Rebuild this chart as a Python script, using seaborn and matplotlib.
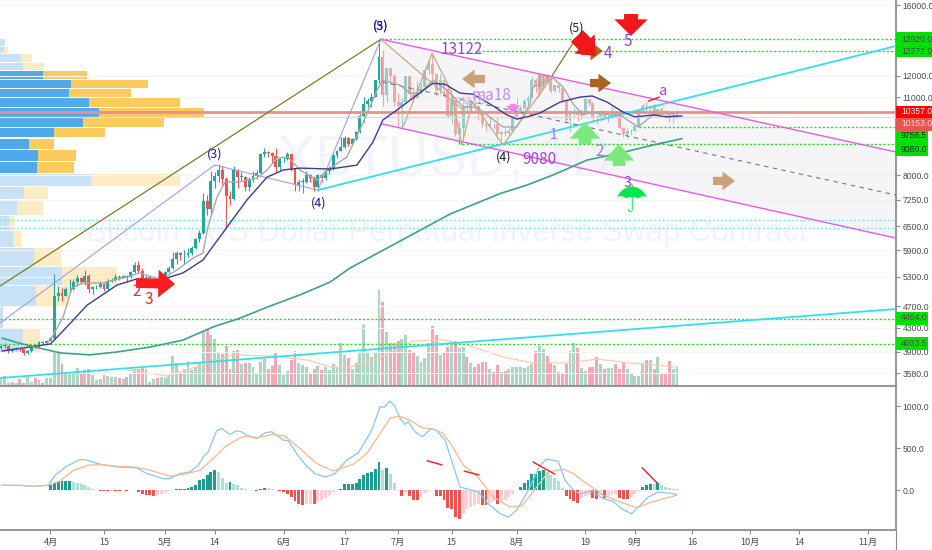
import numpy as np
import pandas as pd
import seaborn as sns
from matplotlib import pyplot as plt
from matplotlib.patches import Polygon, Rectangle
from matplotlib.ticker import NullLocator

W, H = 932, 550

# daily candles, Mar 19 - Sep 12 (day 0 is Apr 1)
days = list(range(-13, 165))
closes = [3990, 4000, 3920, 3950, 3960, 3940, 3880, 3910, 4000, 3990, 4060, 4050, 4080,
          4130, 4890, 4960, 4900, 5030, 5040, 5180, 5280, 5180, 5310, 5040, 5070, 5070, 5150, 5030, 5210, 5230, 5290, 5280, 5310, 5290, 5390, 5560, 5430, 5200, 5280, 5280, 5280, 5260, 5320,
          5400, 5480, 5700, 5830, 5780, 5780, 5830, 5950, 6170, 6340, 7200, 6970, 7820, 7990, 8190, 7880, 7350, 7260, 8190, 7950, 7950, 7620, 7880, 7990, 8070, 8730, 8800, 8760, 8650, 8280, 8550,
          8550, 8730, 8200, 7680, 7800, 7800, 8000, 7930, 7630, 8000, 7930, 8150, 8230, 8690, 8850, 8980, 9330, 9080, 9280, 9530, 10200, 10700, 10830, 11020, 11800, 12950, 11100, 12400, 12000, 10800,
          10600, 10800, 11980, 11150, 10970, 11250, 11470, 12300, 12570, 12100, 11300, 11800, 11350, 10200, 10850, 9450, 9700, 10630, 10530, 10760, 10590, 10330, 9850, 9780, 9880, 9850, 9480, 9530, 9500, 9590, 10090,
          10400, 10530, 10820, 10980, 11800, 11480, 11980, 11980, 11860, 11290, 11550, 11400, 10860, 10030, 10300, 10360, 10220, 10320, 10920, 10760, 10130, 10110, 10400, 10140, 10140, 10370, 10170, 9720, 9480, 9580, 9600,
          9770, 10390, 10620, 10580, 10580, 10330, 10480, 10410, 10340, 10120, 10160, 10360]
highs = [4010, 4040, 4010, 3970, 3980, 3970, 3950, 3930, 4020, 4020, 4080, 4080, 4100,
         4150, 5350, 5100, 5060, 5080, 5250, 5250, 5340, 5300, 5450, 5350, 5110, 5130, 5210, 5170, 5240, 5270, 5350, 5340, 5340, 5340, 5420, 5620, 5640, 5490, 5330, 5340, 5320, 5300, 5380,
         5420, 5530, 5850, 5880, 5850, 5900, 5960, 6000, 6200, 6400, 7450, 7400, 8150, 8100, 8370, 8310, 7950, 7500, 8300, 8220, 8100, 7990, 7960, 8150, 8170, 8780, 8950, 8820, 8790, 8940, 8600,
         8620, 8800, 8740, 8250, 7880, 7900, 8130, 8050, 7980, 8030, 8070, 8200, 8300, 8720, 8880, 9350, 9400, 9340, 9310, 9590, 10260, 11000, 10950, 11180, 11800, 13920, 13350, 12450, 12350, 12100,
         11200, 10950, 12000, 12040, 11450, 11750, 11630, 12340, 12800, 13130, 12100, 12080, 11800, 11450, 11100, 11000, 9980, 10750, 10800, 10850, 10800, 10650, 10350, 9950, 10170, 9900, 10180, 9600, 9720, 9760, 10130,
         10950, 10650, 10900, 11080, 11950, 11900, 12100, 12030, 12040, 11950, 11570, 11550, 11430, 10900, 10440, 10520, 10450, 10480, 10950, 10930, 10800, 10240, 10420, 10430, 10320, 10620, 10400, 10280, 9730, 9700, 9680,
         9820, 10440, 10750, 10800, 10650, 10750, 10500, 10560, 10450, 10380, 10300, 10450]
lows = [3950, 3970, 3890, 3900, 3930, 3920, 3860, 3870, 3900, 3960, 3980, 4030, 4040,
        4080, 4100, 4800, 4800, 4900, 4980, 5020, 5100, 5140, 5130, 4950, 4940, 5030, 5050, 5000, 5010, 5180, 5200, 5220, 5260, 5190, 5270, 5370, 5380, 5120, 5150, 5240, 5240, 5170, 5190,
        5300, 5370, 5470, 5580, 5680, 5580, 5750, 5780, 5940, 6110, 6300, 6800, 6850, 7600, 7780, 7700, 6420, 7100, 7250, 7600, 7810, 7520, 7500, 7780, 7890, 8030, 8620, 8610, 8430, 8100, 8170,
        8450, 8520, 8150, 7500, 7520, 7460, 7750, 7800, 7520, 7520, 7800, 7840, 8030, 8190, 8600, 8830, 8940, 9000, 9050, 9250, 9520, 9950, 10550, 10550, 11020, 11650, 10600, 10800, 11600, 10600,
        9750, 9700, 10800, 10850, 10800, 10950, 11150, 11300, 12100, 11600, 11050, 11130, 11000, 10100, 9850, 9380, 9080, 9350, 10320, 10350, 10400, 10020, 9750, 9580, 9730, 9680, 9300, 9200, 9400, 9380, 9570,
        10050, 10330, 10500, 10600, 10950, 11230, 11350, 11500, 11700, 11200, 11250, 11220, 10770, 9950, 9550, 10100, 10000, 10050, 10280, 10620, 9900, 9850, 10000, 10030, 9950, 10120, 10100, 9650, 9350, 9320, 9440,
        9580, 9750, 10300, 10400, 10350, 10150, 10280, 10250, 10100, 9950, 9900, 10100]
volumes = [7, 10, 3, 4, 3, 7, 3, 9, 4, 8, 6, 3, 8, 8, 35, 35, 22, 12, 14, 14, 18, 13, 16, 17, 11, 6, 7, 11, 10, 9, 9, 8, 7, 9, 12, 17, 17, 18, 17, 4, 7, 8, 9, 8, 11, 30, 23, 13, 17, 25, 16, 19, 23, 54, 58, 51, 47, 34, 32, 40, 17, 35, 36, 22, 23, 23, 19, 12, 24, 27, 17, 20, 34, 21, 11, 15, 26, 35, 23, 21, 19, 12, 17, 20, 16, 19, 16,
           22, 19, 43, 31, 28, 17, 23, 34, 61, 34, 29, 34, 96, 84, 54, 43, 43, 45, 47, 51, 36, 34, 30, 24, 28, 43, 60, 51, 31, 33, 39, 40, 45, 38, 39, 29, 23, 19, 22, 24, 24, 17, 14, 21, 14, 15, 17, 19, 19, 19, 18, 20, 22, 35, 40, 37, 30, 23, 21, 14, 12, 22, 35, 43, 38, 18, 15, 19, 19, 29, 22, 17, 18, 18, 22, 17, 24, 17, 13, 10, 10, 23, 26, 26, 17, 29, 12, 13, 25, 17, 19]
macd_hist = [3, 2, 1, 0, -2, -3, -2, -1, 0, 2, 3, 4, 5,
             56, 84, 100, 104, 104, 108, 100, 84, 68, 56, 36, 16, 4,
             -12, -12, -12, -8, -8, -12, -4, -12, -4, 0,
             -24, -44, -56, -64, -72, -60, -44, -28, -12,
             0, 8, 8, 12, 24, 36, 60,
             124, 136, 180, 220, 244,
             212, 148, 84, 96, 76, 56, 24, 12, 4,
             0, -12, 12, 28, 24, 8, 0,
             -12, -24, -44, -84, -136, -172, -180, -172, -165, -172, -144, -124, -92, -64, -28, -4,
             12, 68, 68, 76, 88, 136, 176, 204, 216, 256, 340, 244, 260, 196, 80, -16,
             -76, -28, -76, -116, -124, -84, -36, -8, -4,
             -68, -76, -116, -212, -224, -324, -352,
             -284, -224, -204, -184, -164, -184, -184, -156, -132, -172, -144, -116, -84, -44,
             0, 36, 84, 124, 196, 196, 224, 236,
             216, 176, 148, 108, 24,
             -68, -104, -132, -152, -100, -70, -60, -92, -108, -64, -92, -70, -60, -52,
             -92, -104, -112, -84, -44, -12, 36, 60, 76, 72, 80, 56, 36, 24, 12, 8]

# moving averages on the price pane
ma_slow_x = [-12.7, 0, 4.3, 9.6, 17.4, 22.6, 28.7, 34.7, 39.9, 46.2, 51.4, 56.7, 60.9, 65.3, 73.2, 80.2, 84.4, 87, 90.7, 94.9, 100.1, 103.3, 107.2, 110.6, 115, 119.5, 122.1, 125.5, 128.1, 133.4, 138.6, 141.8, 145.7, 149.9, 153, 157.8, 161.4, 165.3]
ma_slow_y = [3915, 4030, 4320, 4720, 5120, 5250, 5226, 5380, 5668, 6480, 7236, 7945, 8176, 8240, 8210, 8340, 9160, 10021, 10437, 10960, 11640, 11590, 11180, 11130, 10700, 10230, 10060, 10180, 10310, 10780, 11000, 11050, 10780, 10350, 10150, 10230, 10150, 10190]
ma_fast_x = [-0.9, 0.4, 3.3, 5.6, 8.5, 13.7, 20, 23.4, 28.7, 33.1, 37.3, 39.9, 41.2, 43.6, 45.7, 49.6, 54, 56.7, 59.3, 62.2, 65.3, 69.8, 73.2, 77.6, 81.8, 85.5, 87, 91.5, 94.1, 96.7, 100.1, 103.8, 108, 111.6, 115, 118.5, 122.1, 125.5, 126.3, 131.5, 134.2, 136.8, 139.4, 142, 146.5, 149.1, 153.8, 157.7, 162.2, 164]
ma_fast_y = [4040, 4145, 4495, 5060, 5165, 5165, 5290, 5380, 5226, 5443, 5715, 5830, 6480, 7325, 7790, 7790, 7910, 8176, 8585, 8620, 8176, 7850, 8240, 8620, 9900, 11320, 11790, 11550, 11180, 11180, 11790, 11320, 10560, 10560, 10140, 9740, 9740, 10700, 11460, 11890, 11460, 10700, 10230, 10350, 10230, 10230, 9740, 10230, 10310, 10150]
ma_long_x = [-12.7, -8, -2.7, 2.5, 10.3, 17.4, 26, 34.7, 42.5, 49.6, 56.7, 65.3, 73.2, 78.4, 91.5, 104.6, 117.7, 124.7, 131.5, 140.5, 149.1, 157.7, 165.3]
ma_long_y = [4127, 4040, 3960, 3885, 3855, 3900, 3978, 4094, 4317, 4475, 4680, 4920, 5183, 5487, 6124, 6835, 7430, 7690, 8010, 8515, 8760, 9050, 9290]
vol_ma_x = [20, 30.5, 47.8, 58.3, 67.1, 73.2, 78.4, 86.3, 95, 102.8, 109.8, 118.5, 126.3, 136, 143, 151.7, 164]
vol_ma_y = [16, 10, 31, 30, 26, 19, 19, 28, 45, 46, 40, 29, 23, 23, 27, 23, 19]

# macd lines
macd_x = [-12.8, -8, -4.5, -0.6, 1.2, 4.2, 7.7, 9, 13, 17.3, 22.6, 25.2, 29.5, 31.3, 33.9, 36.5, 38.7, 40, 41.3, 43.5, 44.8, 47, 48.7, 50, 51.8, 54, 56.2, 57.9, 61, 62.3, 64.4, 66.6, 69.2, 71.9, 74.5, 77.5, 80.6, 84.1, 86.3, 87.3, 88.9, 90.2, 91.5, 92.8, 93.7, 95.4, 97.4, 99.4, 100.7, 103.3, 105, 107.2, 109.4, 112, 114.6, 117.7, 119.9, 122, 125.1, 128.1, 129.9, 132.9, 134.7, 136.9, 138.6, 141.7, 144.7, 147.3, 149.5, 152.1, 154.3, 156.5, 159.1, 161.7, 163.9]
macd_y = [56, 56, 44, 56, 176, 284, 364, 364, 308, 276, 264, 196, 136, 136, 196, 216, 296, 396, 456, 708, 736, 664, 708, 696, 644, 616, 684, 696, 596, 588, 436, 308, 196, 156, 196, 356, 444, 716, 996, 988, 1064, 996, 856, 784, 816, 696, 636, 728, 724, 596, 356, 36, 8, -24, -164, -284, -324, -244, -4, 296, 368, 344, 116, -4, -44, -12, -104, -136, -224, -284, -184, -84, -24, -36, -52]
signal_x = [-12.8, -8, -4.5, -0.6, 2.5, 6, 9.9, 13, 17.3, 22.6, 26, 31.3, 35.6, 39.1, 42.6, 45.7, 49.6, 51.8, 54, 57.9, 61.4, 65.3, 69.7, 74, 79.3, 82.8, 86.3, 88.9, 91.1, 94.1, 97.2, 100.2, 102.8, 105, 108.1, 112, 115.9, 120.3, 123.4, 127.3, 130.3, 134.3, 136.9, 140.4, 144.7, 149.1, 153.5, 156.9, 160.4, 163.9]
signal_y = [56, 56, 44, 56, 108, 236, 296, 304, 284, 272, 236, 164, 196, 236, 376, 516, 624, 648, 624, 664, 644, 496, 316, 228, 308, 436, 676, 856, 884, 836, 744, 728, 676, 536, 296, 148, -84, -204, -192, 36, 216, 248, 196, 76, -64, -144, -212, -152, -104, -64]

# volume profile rows on the left
vp_top = [13920, 13490, 13093, 12637, 12218, 11793, 11370, 10980, 10523, 10117, 9699, 9288, 8869, 8459, 8045, 7630, 7216, 6781, 6371, 5953, 5510, 5101, 4680, 4276]
vp_bot = [13515, 13146, 12674, 12282, 11825, 11401, 11017, 10580, 10158, 9752, 9352, 8907, 8493, 8088, 7672, 7267, 6808, 6405, 5970, 5533, 5120, 4702, 4299, 3883]
vp_buy = [5, 4, 21, 23, 43, 71, 69, 89, 99, 83, 54, 29, 38, 37, 91, 24, 17, 9, 13, 34, 62, 36, 3, 23]
vp_sell = [0, 4, 11, 21, 44, 77, 62, 91, 105, 81, 51, 25, 38, 37, 89, 24, 26, 5, 8, 27, 55, 34, 0, 17]
vp_strong = [0, 0, 0, 0, 1, 1, 1, 1, 1, 1, 1, 1, 1, 1, 0, 0, 0, 0, 0, 0, 0, 0, 0, 0]

# drawn lines
olive_x, olive_y = [-13.2, 86.5], [5101, 13920]
wave_x, wave_y = [-13.2, 43, 70, 86.5], [4389, 8345, 7537, 13920]
cyan_hi_x, cyan_hi_y = [70, 221.3], [7537, 13540]
cyan_lo_x, cyan_lo_y = [-13.2, 221.3], [3508, 4645]
chan_top_x, chan_top_y = [86.5, 221.3], [13920, 8800]
chan_bot_x, chan_bot_y = [86.8, 221.3], [9860, 6200]
chan_mid_x, chan_mid_y = [86.8, 221.3], [11700, 7385]
tan_x = [92.3, 99.9, 104.8, 107.7, 110.4, 118.5, 131.5]
tan_y = [9740, 13146, 11320, 9050, 10790, 9050, 12000]
tan2_x, tan2_y = [86.5, 108], [13920, 10437]
brown_x, brown_y = [131.3, 137.3], [12000, 13880]
levels = [13920, 13272, 9758.5, 9080, 4464, 4033.5]
level_start = [86.5, 112, 154, 107.7, -13.2, -13.2]
cyan_levels = [6671, 6470]
macd_marks = [([98.6, 102.5], [350, 300]), ([108.3, 112.2], [225, 180]), ([126.3, 132], [335, 190]), ([154.9, 158.8], [265, 85])]

# axis ticks
price_ticks = [16000, 12000, 11000, 8000, 7250, 6500, 5900, 5300, 4700, 4300, 3900, 3580]
macd_ticks = [1000, 500, 0]
date_ticks = [0, 14, 30, 43, 61, 77, 91, 105, 122, 140, 153, 168, 183, 196, 214]
date_labels = ['4月', '15', '5月', '14', '6月', '17', '7月', '15', '8月', '19', '9月', '16', '10月', '14', '11月']

sns.set_theme(style='white')
plt.rcParams['font.family'] = ['Noto Sans CJK SC', 'DejaVu Sans']
plt.rcParams['axes.unicode_minus'] = False

AXIS = '#868993'
TXT = '#4a4a52'
GREEN, RED = '#26a69a', '#ef5350'

fig = plt.figure(figsize=(W / 100, H / 100), dpi=100, facecolor='white')
right = 895.7 / W
ax = fig.add_axes([0, 1 - 386 / H, right, 386 / H])
ax_vp = ax.twiny()
ax_vol = ax.twinx()
ax_m = fig.add_axes([0, 1 - 530 / H, right, 144 / H])
ax.set_zorder(3)
ax.patch.set_visible(False)
ax_vol.set_zorder(2)
ax_vol.patch.set_visible(False)
ax_vp.set_zorder(1)
xlim = (-13.22, 221.26)


def line(a, x, y, color, lw=1.0, **kw):
    sns.lineplot(x=x, y=y, ax=a, color=color, linewidth=lw, estimator=None, sort=False, legend=False, **kw)


def label(s, x, y, color, size, **kw):
    fig.text(x / W, 1 - y / H, s, color=color, fontsize=size, ha='center', va='center', zorder=10, **kw)


def arrow(x0, y0, x1, y1, color, scale=16, tail=0.4, head=0.9):
    ax.annotate('', xy=(x1 / W, 1 - y1 / H), xytext=(x0 / W, 1 - y0 / H),
                xycoords='figure fraction', textcoords='figure fraction', zorder=9,
                arrowprops=dict(arrowstyle=f'simple,head_length=0.6,head_width={head},tail_width={tail}',
                                color=color, mutation_scale=scale, shrinkA=0, shrinkB=0, lw=0))


# watermark
fig.text(445 / W, 1 - 161 / H, 'XBTUSD, 1D', color='#f1f4fa', fontsize=41, ha='center', va='center', zorder=0.5, family='Liberation Sans')
fig.text(447 / W, 1 - 233 / H, 'Bitcoin / US Dollar Perpetual Inverse Swap Contract', color='#f0f3f9',
         fontsize=22.5, ha='center', va='center', zorder=0.5, family='Liberation Sans')

# volume profile
for top, bot, b, s, strong in zip(vp_top, vp_bot, vp_buy, vp_sell, vp_strong):
    ax_vp.barh(bot, b, height=top - bot, align='edge', color='#4fa9ea' if strong else '#c9e1f6', linewidth=0)
    ax_vp.barh(bot, s, height=top - bot, left=b, align='edge', color='#fbcb5e' if strong else '#fdebc4', linewidth=0)
ax_vp.set_xlim(0, 895.7)
ax_vp.axis('off')

# volume pane
opens = [closes[0] - 20] + closes[:-1]
frame = pd.DataFrame({'day': days, 'open': opens, 'close': closes, 'high': highs, 'low': lows, 'vol': volumes, 'hist': macd_hist})
frame['side'] = np.where(frame['close'] >= frame['open'], 'up', 'down')
sns.barplot(data=frame, x='day', y='vol', hue='side', palette={'up': '#aad6c2', 'down': '#f5a5b5'}, native_scale=True,
            dodge=False, width=0.76, linewidth=0, legend=False, ax=ax_vol, saturation=1)
line(ax_vol, vol_ma_x, vol_ma_y, '#f8cdb0', 0.9)
ax_vol.set_ylim(0, 386)
ax_vol.axis('off')

# candles
ax.set_yscale('log')
up = frame['side'] == 'up'
colors = np.where(up, GREEN, RED)
ax.vlines(frame['day'], frame['low'], frame['high'], colors=colors, lw=0.8, zorder=2)
ax.bar(frame['day'], (frame['close'] - frame['open']).abs().clip(lower=15), bottom=frame[['open', 'close']].min(axis=1),
       width=0.76, color=colors, linewidth=0, zorder=2.1)

# channel sits on top of the candles and washes them out
ax.fill_between(chan_top_x, chan_top_y, [9860, 6200], color='#eeeef2', alpha=0.55, lw=0, zorder=2.5)
ax.add_patch(Polygon([(131, 12000), (127.6, 12150), (127.6, 10900)], closed=True, color='#d98a80', alpha=0.55, lw=0, zorder=3))

# levels
for lvl, start in zip(levels, level_start):
    ax.plot([start, 221.3], [lvl, lvl], color='#22dd22', lw=1.0, ls=(0, (1.5, 1.5)), zorder=3)
for lvl in cyan_levels:
    ax.plot(xlim, [lvl, lvl], color='#5fe3ee', lw=1.0, ls=(0, (1, 2)), zorder=3)
ax.plot(xlim, [10357, 10357], color='#e88f8f', lw=2, zorder=3)
ax.plot(xlim, [10153, 10153], color='#f8d4d4', lw=1, zorder=3)

# drawings
line(ax, olive_x, olive_y, '#7c7a2c', 0.9, zorder=4)
line(ax, wave_x, wave_y, '#a69be8', 0.8, zorder=4)
line(ax, cyan_hi_x, cyan_hi_y, '#35dfe9', 1.3, zorder=4)
line(ax, cyan_lo_x, cyan_lo_y, '#35dfe9', 1.3, zorder=4)
line(ax, chan_top_x, chan_top_y, '#e45de4', 1.0, zorder=4)
line(ax, chan_bot_x, chan_bot_y, '#e45de4', 1.0, zorder=4)
line(ax, chan_mid_x, chan_mid_y, '#77777f', 0.8, linestyle=(0, (4, 4)), zorder=4)
line(ax, tan_x, tan_y, '#c7a97d', 0.9, zorder=4)
line(ax, tan2_x, tan2_y, '#c7a97d', 0.9, zorder=4)
line(ax, brown_x, brown_y, '#95713a', 0.9, zorder=4)

# moving averages
line(ax, ma_fast_x, ma_fast_y, '#a9a9ad', 1.0, zorder=5)
line(ax, ma_slow_x, ma_slow_y, '#413a8e', 1.0, zorder=5)
line(ax, ma_long_x, ma_long_y, '#3f9f90', 1.2, zorder=5)

ax.set_xlim(*xlim)
ax.set_ylim(3396, 16329)
ax.set_yticks(price_ticks)
ax.set_yticklabels([f'{t:.1f}' for t in price_ticks], family='Liberation Sans')
ax.yaxis.set_minor_locator(NullLocator())
ax.yaxis.tick_right()
ax.tick_params(axis='y', length=3, width=0.8, color=AXIS, labelcolor=TXT, labelsize=6.2, pad=2, right=True)
ax.set_xticks([])
ax.set_xlabel('')
ax.set_ylabel('')
for name, sp in ax.spines.items():
    sp.set_visible(name in ('right', 'bottom'))
    sp.set_color(AXIS)
ax.grid(True, axis='y', color='#f6f6f8', lw=0.8)

# macd pane
hist = frame['hist']
prev = hist.shift(1).fillna(0)
grow = hist.abs() >= prev.abs()
frame['shade'] = np.where(hist >= 0, np.where(grow, 'a', 'b'), np.where(grow, 'c', 'd'))
sns.barplot(data=frame, x='day', y='hist', hue='shade', palette={'a': '#1f9c8c', 'b': '#b2dfd4', 'c': '#ef5350', 'd': '#ffcdd2'},
            native_scale=True, dodge=False, width=0.76, linewidth=0, legend=False, ax=ax_m, saturation=1)
line(ax_m, macd_x, macd_y, '#8cc4ee', 0.9)
line(ax_m, signal_x, signal_y, '#f5b88f', 0.9)
for mx, my in macd_marks:
    line(ax_m, mx, my, '#ee1c25', 1.0)
ax_m.set_xlim(*xlim)
ax_m.set_ylim(-478, 1243)
ax_m.set_xticks(date_ticks)
ax_m.set_xticklabels(date_labels)
ax_m.set_yticks(macd_ticks)
ax_m.set_yticklabels([f'{t:.1f}' for t in macd_ticks], family='Liberation Sans')
ax_m.yaxis.tick_right()
ax_m.tick_params(axis='y', length=3, width=0.8, color=AXIS, labelcolor=TXT, labelsize=6.2, pad=2, right=True)
ax_m.tick_params(axis='x', length=3, width=0.8, color=AXIS, labelcolor=TXT, labelsize=6.6, pad=3, bottom=True)
ax_m.set_xlabel('')
ax_m.set_ylabel('')
ax_m.patch.set_visible(False)
for name, sp in ax_m.spines.items():
    sp.set_visible(name in ('right', 'bottom'))
    sp.set_color(AXIS)
fig.add_artist(plt.Line2D([right, right], [0, 20 / H], color=AXIS, lw=0.8))

# price tags on the axis
for x0, y0, w, h, c in [(896, 32, 36, 25, '#00e000'), (896, 105.5, 36, 12.5, '#ff0000'), (896, 118, 36, 12.5, '#ef5350'),
                        (896, 130.5, 32, 25, '#00e000'), (896, 312, 32, 12.5, '#00e000'), (896, 337, 32, 13, '#00e000')]:
    fig.add_artist(Rectangle((x0 / W, 1 - (y0 + h) / H), w / W, h / H, transform=fig.transFigure, color=c, lw=0, zorder=9))
for s, y, c in [('13920.0', 39, TXT), ('13272.0', 51, TXT), ('10357.0', 112, 'white'), ('10153.0', 124, '#ffe0e0'),
                ('9758.5', 136, '#222'), ('9080.0', 149, '#222'), ('4464.0', 318, TXT), ('4033.5', 343.5, TXT)]:
    fig.text(901 / W, 1 - y / H, s, color=c, fontsize=6.2, ha='left', va='center', zorder=10, family='Liberation Sans')

# wave counts and notes
NAVY, PURPLE = '#1d1a8f', '#8b45d6'
label('(3)', 381, 26, NAVY, 9)
label('(5)', 381, 26, NAVY, 9)
label('(3)', 215, 154, NAVY, 9)
label('(4)', 319, 203, NAVY, 9)
label('(4)', 504, 157, '#222222', 9)
label('(5)', 577, 28, '#222222', 9)
label('2', 137, 292, '#f02828', 11)
label('3', 149, 300, '#f02828', 11)
label('13122', 462, 49, PURPLE, 11)
label('9080', 539, 160, '#a53fd6', 11)
label('ma18', 492, 95, '#c08af0', 11)
label('ma18', 470, 100, '#c9b0ee', 9)
label('1', 554, 135, '#9a78e6', 10)
label('2', 600, 152, '#9a78e6', 11)
label('3', 628, 183, PURPLE, 10.5)
label('4', 608, 54, PURPLE, 11)
label('5', 628, 41, PURPLE, 11)
label('a', 662, 91, '#a53fd6', 10.5)
label('☂', 631, 202, '#00e64d', 27, family='DejaVu Sans')

# arrows
arrow(136, 283, 175, 284, '#ff1c1c', 20, 0.35, 1.0)
arrow(485, 79, 462, 79, '#c9a27a', 15)
arrow(590, 83, 611, 83, '#a8651e', 15)
arrow(713, 181, 735, 181, '#c9a27a', 15)
arrow(581, 51, 603, 51, '#b0641e', 15)
arrow(577, 36, 596, 56, '#f01818', 20, 0.6, 1.0)
arrow(631, 14, 631, 36, '#f01818', 20, 0.5, 1.2)
arrow(585, 144, 585, 122, '#7de87d', 20, 0.45, 1.1)
arrow(619, 166, 619, 144, '#7de87d', 20, 0.45, 1.1)
arrow(513, 104, 513, 114, '#ee86ee', 10, 0.4, 1.0)
line(ax, [156.5, 159.4], [10820, 11000], '#ee1c25', 1.0, zorder=6)

fig.savefig('out.png', dpi=100)
